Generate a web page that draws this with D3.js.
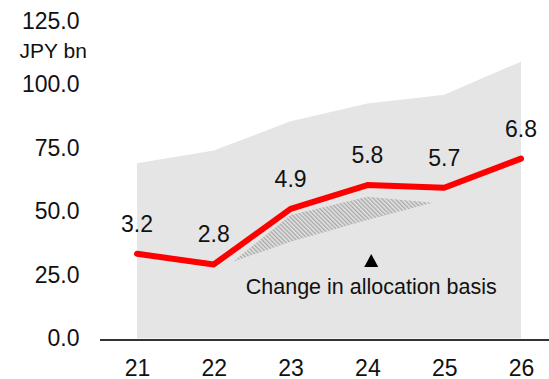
<!DOCTYPE html>
<html>
<head>
<meta charset="utf-8">
<script src="https://cdn.jsdelivr.net/npm/d3@7"></script>
<style>
  html, body { margin: 0; padding: 0; background: #fff; }
  svg { display: block; font-family: "Liberation Sans", Arial, sans-serif; }
</style>
</head>
<body>
<svg id="chart" width="549" height="379"></svg>
<script>
// Fiscal years on the x axis
const years = ["21", "22", "23", "24", "25", "26"];
// Shaded area, JPY bn (left axis)
const totalBn = [69, 74, 85.5, 92.5, 96, 109];
// Red line values, drawn on a 0–12 secondary scale
const lineValues = [3.2, 2.8, 4.9, 5.8, 5.7, 6.8];
// Left axis ticks
const yTicks = [0, 25, 50, 75, 100, 125];
// Hatched band (allocation change): fractional year index and upper/lower values on the 0–12 scale
const hatchPos = [1.25, 2, 3, 3.85];
const hatchHigh = [2.9, 4.67, 5.36, 5.13];
const hatchLow = [2.9, 3.66, 4.48, 5.13];

const svg = d3.select("#chart");
const W = 549;

const x = d3.scalePoint().domain(years).range([137, 521]);
const xi = d3.scaleLinear().domain([0, years.length - 1]).range([137, 521]);
const yL = d3.scaleLinear().domain([0, 125]).range([338.5, 21]);
const yR = d3.scaleLinear().domain([0, 12]).range([338.5, 21]);

// hatch pattern
const defs = svg.append("defs");
const pat = defs.append("pattern")
  .attr("id", "hatch")
  .attr("patternUnits", "userSpaceOnUse")
  .attr("width", 3).attr("height", 3)
  .attr("patternTransform", "rotate(-45)");
pat.append("rect").attr("width", 3).attr("height", 3).attr("fill", "#e5e5e5");
pat.append("rect").attr("width", 1.4).attr("height", 3).attr("fill", "#a8a8a8");

// shaded total area
const area = d3.area()
  .x((d, i) => x(years[i]))
  .y0(yL(0))
  .y1(d => yL(d));
svg.append("path")
  .datum(totalBn)
  .attr("d", area)
  .attr("fill", "#e5e5e5");

// hatched band
const band = d3.area()
  .x((d, i) => xi(hatchPos[i]))
  .y0((d, i) => yR(hatchLow[i]))
  .y1((d, i) => yR(hatchHigh[i]));
svg.append("path")
  .datum(hatchPos)
  .attr("d", band)
  .attr("fill", "url(#hatch)");

// x axis line
svg.append("line")
  .attr("x1", 100).attr("x2", W)
  .attr("y1", yL(0) + 1.5).attr("y2", yL(0) + 1.5)
  .attr("stroke", "#333").attr("stroke-width", 2);

// y axis tick labels
const yAxis = d3.axisLeft(yL).tickValues(yTicks).tickFormat(d3.format(".1f")).tickSize(0).tickPadding(0);
const gy = svg.append("g").attr("transform", "translate(79.5,0)").call(yAxis);
gy.select(".domain").remove();
gy.selectAll("text")
  .attr("font-size", 23)
  .attr("font-family", "Liberation Sans, Arial, sans-serif")
  .attr("fill", "#111");

// unit label
svg.append("text")
  .attr("x", 19.5).attr("y", 57.5)
  .attr("font-size", 21)
  .attr("fill", "#111")
  .text("JPY bn");

// x axis tick labels
const xAxis = d3.axisBottom(x).tickSize(0).tickPadding(0);
const gx = svg.append("g").call(xAxis);
gx.select(".domain").remove();
gx.selectAll("text")
  .attr("y", 375.5).attr("dy", null)
  .attr("font-size", 23)
  .attr("font-family", "Liberation Sans, Arial, sans-serif")
  .attr("fill", "#111");

// red line
const line = d3.line()
  .x((d, i) => x(years[i]))
  .y(d => yR(d));
svg.append("path")
  .datum(lineValues)
  .attr("d", line)
  .attr("fill", "none")
  .attr("stroke", "#ff0000")
  .attr("stroke-width", 6)
  .attr("stroke-linejoin", "round")
  .attr("stroke-linecap", "round");

// value labels
svg.append("g").selectAll("text")
  .data(lineValues)
  .join("text")
  .attr("x", (d, i) => x(years[i]))
  .attr("y", d => yR(d) - 22)
  .attr("text-anchor", "middle")
  .attr("font-size", 23)
  .attr("fill", "#111")
  .text(d => d3.format(".1f")(d));

// annotation marker and caption
const ax = xi(3.05);
svg.append("path")
  .attr("d", d3.line()([[ax - 7, 267], [ax + 7, 267], [ax, 254]]) + "Z")
  .attr("fill", "#000");
svg.append("text")
  .attr("x", ax).attr("y", 294)
  .attr("text-anchor", "middle")
  .attr("font-size", 21.5)
  .attr("fill", "#111")
  .text("Change in allocation basis");
</script>
</body>
</html>
